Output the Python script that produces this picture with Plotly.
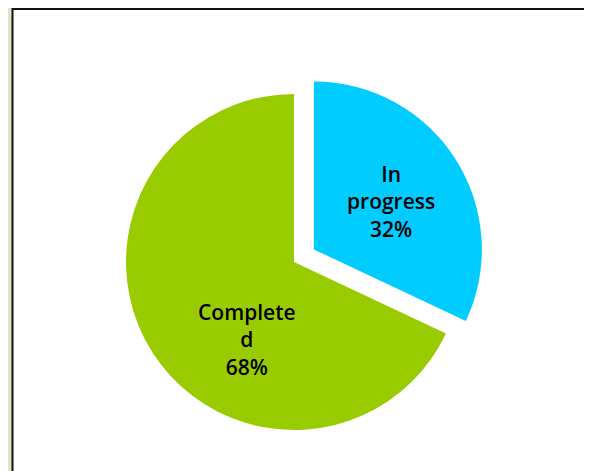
import plotly.graph_objects as go

labels = ["In progress", "Completed"]
values = [32, 68]
label_lines = [["In", "progress"], ["Complete", "d"]]
colors = ["#00CCFF", "#99CC00"]
pulls = [0.14, 0]

W, H = 592, 471
OFF = 8  # page body margin pushes the figure right/down

fig = go.Figure(go.Pie(
    labels=labels,
    values=values,
    textinfo="none",
    sort=False,
    direction="clockwise",
    rotation=0,
    pull=pulls,
    marker=dict(colors=colors, line=dict(width=0)),
    hoverinfo="label+percent",
    showlegend=False,
    domain=dict(x=[(294 - OFF - 191.5) / W, (294 - OFF + 191.5) / W],
                y=[(H - 262 + OFF - 191.5) / H, (H - 262 + OFF + 191.5) / H]),
))

# data labels placed the way the original (Excel) chart puts them
total = sum(values)
label_pos = [(391, 201), (247, 339)]
for lines, v, (px_, py_) in zip(label_lines, values, label_pos):
    txt = "<br>".join(lines + [f"{round(100 * v / total)}%"])
    fig.add_annotation(text=txt, xref="paper", yref="paper",
                       x=(px_ - OFF) / W, y=1 - (py_ - OFF) / H,
                       xanchor="center", yanchor="middle",
                       showarrow=False, align="center",
                       font=dict(family="Open Sans", size=21,
                                 color="black", weight=600))

# white chart area with dark border, cut off at right and bottom
fig.add_shape(type="rect", xref="paper", yref="paper",
              x0=(12.5 - OFF) / W, x1=1.05, y0=-0.05, y1=1 - 1 / H,
              fillcolor="white", line=dict(color="#111111", width=2),
              layer="below")

fig.update_layout(
    width=W, height=H,
    margin=dict(l=0, r=0, t=0, b=0),
    paper_bgcolor="#E3E1C8",
    showlegend=False,
)
fig.write_html("out.html")
